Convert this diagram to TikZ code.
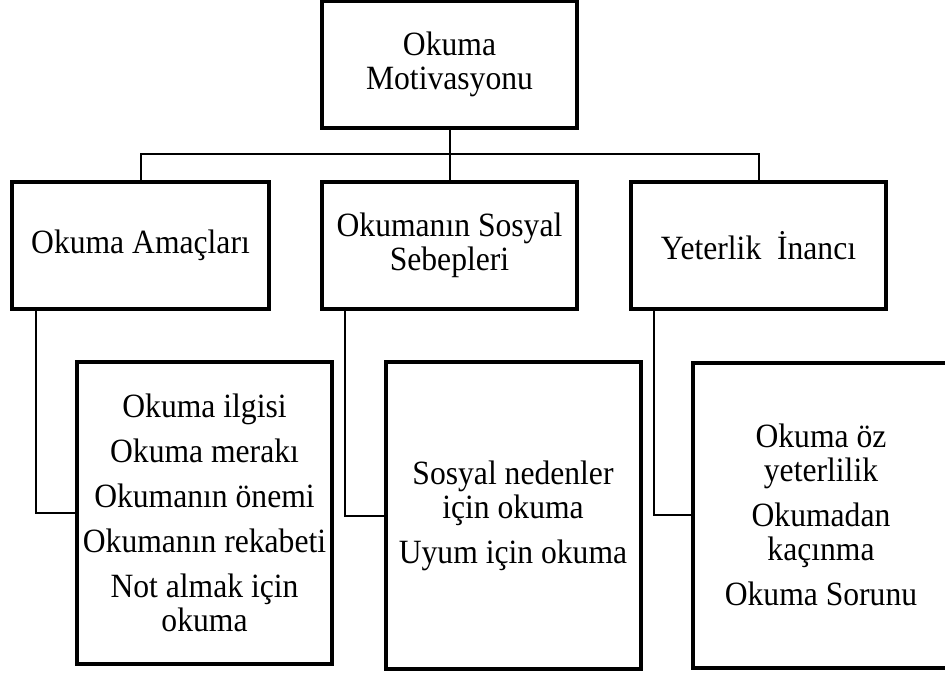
\documentclass[tikz,border=0pt]{standalone}
\usepackage{fontspec}
\setmainfont{Liberation Serif}[FakeStretch=0.93]
\usepackage{tikz}

\tikzset{
  kutu/.style={draw, line width=4bp, inner sep=0pt, align=center,
    minimum width=255bp, minimum height=127bp,
    font=\fontsize{34bp}{34bp}\selectfont},
  altkutu/.style={kutu, minimum height=305bp},
  baglanti/.style={line width=2bp}
}

\begin{document}
\begin{tikzpicture}[x=1bp, y=-1bp]
        \clip (0,0) rectangle (945,675);
        \fill[white] (0,0) rectangle (945,675);
        % Top box
        \node[kutu] (mot) at (449.5,64.5) {Okuma\\Motivasyonu};
        % Second row
        \node[kutu, minimum width=257bp] (amac) at (140.5,245.5) {Okuma Amaçları};
        \node[kutu] (sosyal) at (449.5,245.5) {Okumanın Sosyal\\Sebepleri};
        \node[kutu] (yeter) at (758.5,245.5) {Yeterlik\ \ İnancı};
        % Lower boxes
        \node[altkutu, minimum height=302bp] (amacL) at (204.5,513) {Okuma ilgisi\\[11bp]Okuma merakı\\[11bp]Okumanın önemi\\[11bp]Okumanın rekabeti\\[11bp]Not almak için\\okuma};
        \node[altkutu, minimum height=307bp] (sosyalL) at (513,515.5) {Sosyal nedenler\\için okuma\\[11bp]Uyum için okuma};
        \node[altkutu, minimum width=256bp] (yeterL) at (821,515) {Okuma öz\\yeterlilik\\[11bp]Okumadan\\kaçınma\\[11bp]Okuma Sorunu};
        % Tree lines
        \coordinate (bus) at (449.5,154);
        \draw[baglanti] (mot) -- (bus);
        \draw[baglanti] (amac.north) |- (bus) -| (yeter.north);
        \draw[baglanti] (bus) -- (sosyal);
        % Side lines to the lower boxes
        \draw[baglanti] ([xshift=26bp]amac.south west) |- (amacL.west);
        \draw[baglanti] ([xshift=25bp]sosyal.south west) |- (sosyalL.west);
        \draw[baglanti] ([xshift=25bp]yeter.south west) |- (yeterL.west);
    \end{tikzpicture}
\end{document}
